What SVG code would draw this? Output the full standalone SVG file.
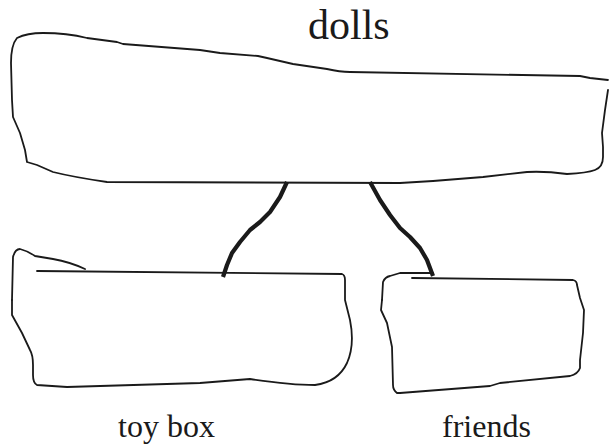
<svg xmlns="http://www.w3.org/2000/svg" width="609" height="444" viewBox="0 0 609 444">
<style>
.outline{fill:none;stroke:#1a1a1a;stroke-width:1.8;stroke-linejoin:round;stroke-linecap:round}
.conn{fill:none;stroke:#1a1a1a;stroke-width:4.2;stroke-linejoin:round;stroke-linecap:butt}
.lbl{fill:#1a1a1a;font-family:"Liberation Serif",Tinos,"Times New Roman","DejaVu Serif","Noto Serif",serif}
</style>
<rect width="609" height="444" fill="#ffffff"/>
<g id="node-dolls">
<path class="outline" d="M 608,90 L 605,110 L 602,133 L 603,147 L 603,157 Q 603,167 595,170 Q 587,173 567,174 Q 545,171 527,172 L 483,177 L 433,181 L 400,183 L 107,182 Q 73,177 53,172 L 37,165 L 27,162 L 25,150 L 20,133 L 13,117 L 12,100 L 11,63 Q 11,45 17,38 Q 27,33 43,33 Q 67,33 87,38 L 117,42 L 123,44 L 200,50 L 220,53 L 258,56 L 267,58 L 293,64 L 327,69 Q 340,72 350,72 L 580,76 L 590,78 L 608,80"/>
<text class="lbl" x="308" y="39" font-size="42">dolls</text>
</g>
<g id="node-toybox">
<path class="outline" d="M 12,300 L 13,257 Q 15,249 20,249 Q 28,251 35,256 L 53,259 Q 70,262 85,269"/>
<path class="outline" d="M 37,271 L 342,274 Q 345,275 345,280 L 345,300 L 350,320 Q 355,345 347,363 Q 338,382 315,385 Q 290,385 250,379 L 200,383 L 67,387 L 37,385 Q 33,383 33,375 L 33,365 Q 33,355 30,350 L 22,333 L 12,315 L 12,300"/>
<text class="lbl" x="118" y="437" font-size="32">toy box</text>
</g>
<g id="node-friends">
<path class="outline" d="M 382,300 L 383,282 Q 385,277 390,276 L 400,273 L 433,273"/>
<path class="outline" d="M 412,278 L 573,280 Q 577,281 577,285 L 580,298 L 584,310 L 583,333 L 580,360 L 580,368 Q 578,374 570,376 L 500,383 L 490,386 L 400,393 L 397,393 Q 393,390 393,385 L 392,347 L 387,323 L 381,310 L 382,300"/>
<text class="lbl" x="442" y="437" font-size="32">friends</text>
</g>
<g id="connectors">
<path class="conn" d="M 287,182 L 280,197 L 270,212 L 260,222 L 250,230 L 240,242 L 232,253 L 227,265 L 223,277"/>
<path class="conn" d="M 370,182 L 380,200 L 390,215 L 400,228 L 410,237 L 420,248 L 427,260 L 433,276"/>
</g>
</svg>
